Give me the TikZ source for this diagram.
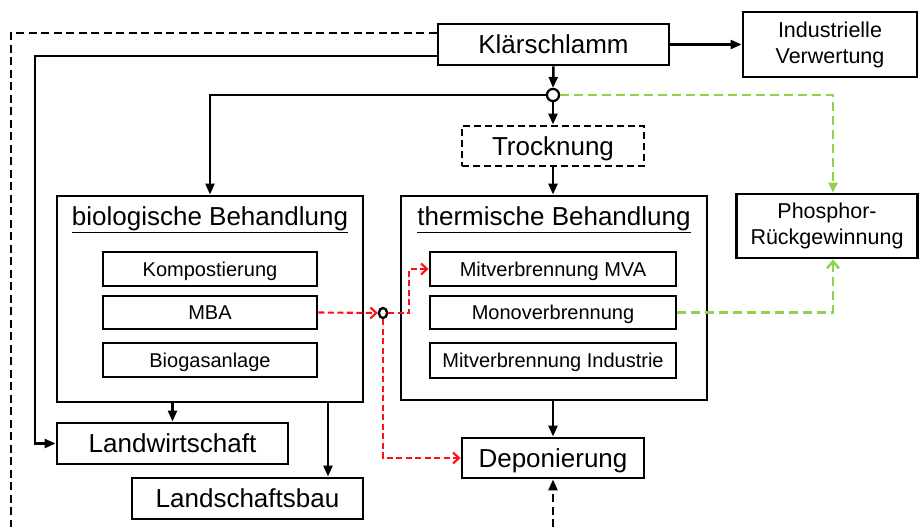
\documentclass[tikz,border=0pt]{standalone}
\usepackage{fontspec}
\setmainfont{Liberation Sans}
\usetikzlibrary{arrows.meta,calc,shapes.geometric}

\definecolor{pgreen}{HTML}{92D050}
\definecolor{pred}{HTML}{FF1010}

\tikzset{
  box/.style={draw, line width=2.9pt, fill=white, inner sep=0pt, align=center},
  bigtext/.style={font=\fontsize{26}{30}\selectfont, text height=18.6pt, text depth=0pt},
  midtext/.style={font=\fontsize{21.5}{26}\selectfont},
  smalltext/.style={font=\fontsize{20}{24}\selectfont, text height=14.3pt, text depth=0pt},
  conn/.style={line width=2.5pt},
  blk/.style={conn, -{Triangle[length=11pt,width=9pt]}},
  blkdash/.style={conn, dash pattern=on 8pt off 4.5pt},
  redflow/.style={line width=2.1pt, draw=pred, dash pattern=on 6pt off 3.5pt},
  redarr/.style={redflow, -{Straight Barb[length=6pt,width=11pt,line width=2.1pt]}},
  greenflow/.style={line width=2.5pt, draw=pgreen, dash pattern=on 9pt off 5pt},
  junction/.style={circle, draw, fill=white, line width=2.2pt, inner sep=0pt, minimum size=12pt},
  smalljunction/.style={ellipse, draw, fill=white, line width=2.2pt, inner sep=0pt, minimum width=8pt, minimum height=10pt}
}

\begin{document}
\begin{tikzpicture}[x=1pt, y=-1pt]
\useasboundingbox (0,0) rectangle (919,527);

% --- main nodes ---
\node[box, bigtext, minimum width=231pt, minimum height=41pt] (klae) at (553.5,44.5) {Klärschlamm};
\node[box, midtext, minimum width=174pt, minimum height=65pt] (indv) at (830,44.5) {\raisebox{-2pt}{Industrielle}\\\raisebox{-2pt}{Verwertung}};
\node[box, bigtext, dashed, dash pattern=on 7pt off 4pt, minimum width=182pt, minimum height=40pt] (trock) at (553,146) {Trocknung};

% treatment groups
\node[box, minimum width=306pt, minimum height=206pt] (bio) at (210,299) {};
\node[box, minimum width=306pt, minimum height=204pt] (therm) at (554,298) {};
\node[bigtext, inner sep=0pt] (biot) at (210,216.5) {\underline{biologische Behandlung}};
\node[bigtext, inner sep=0pt] (thermt) at (554,216.5) {\underline{thermische Behandlung}};

% inner process boxes
\node[box, smalltext, minimum width=214pt, minimum height=34pt] (komp) at (210,269) {Kompostierung};
\node[box, smalltext, minimum width=214pt, minimum height=33pt] (mba) at (210,312.5) {MBA};
\node[box, smalltext, minimum width=214pt, minimum height=34pt] (biog) at (210,360) {Biogasanlage};
\node[box, smalltext, minimum width=246pt, minimum height=34pt] (mva) at (553,269) {Mitverbrennung MVA};
\node[box, smalltext, minimum width=246pt, minimum height=33pt] (mono) at (553,312.5) {Monoverbrennung};
\node[box, smalltext, minimum width=246pt, minimum height=35pt] (mind) at (553,360.5) {Mitverbrennung Industrie};

\node[box, midtext, minimum width=181pt, minimum height=64pt] (phos) at (827,226) {\raisebox{-2pt}{Phosphor-}\\\raisebox{-2pt}{Rückgewinnung}};

% destinations
\node[box, bigtext, minimum width=231pt, minimum height=41pt] (lw) at (172.5,443.5) {Landwirtschaft};
\node[box, bigtext, minimum width=231pt, minimum height=41pt] (lsb) at (247.5,498.5) {Landschaftsbau};
\node[box, bigtext, minimum width=182pt, minimum height=40pt] (dep) at (553,458) {Deponierung};

% junction points
\node[junction] (j1) at (553,95) {};
\node[smalljunction] (j2) at (383,313) {};

% helper coordinates
\coordinate (botL) at (11,527);
\coordinate (lwturn) at (35,443.5);
\coordinate (rj) at (409,313);
\coordinate (botD) at (553,527);

% --- black connectors ---
\draw[blk] (klae.east) -- (indv.west);
\draw[blk] (klae.south) -- (j1.north);
\draw[blk] (j1.south) -- (trock.north);
\draw[blk] (j1.west) -| (bio.north);
\draw[blk] (trock.south) -- (trock.south |- therm.north);
\draw[blk] (dep.north |- therm.south) -- (dep.north);
\draw[blk] (lw.north |- bio.south) -- (lw.north);
\draw[blk] ([xshift=118pt]bio.south) -- ([xshift=118pt]bio.south |- lsb.north);
\draw[blk] ([yshift=-11.5pt]klae.west) -| (lwturn) -- (lw.west);
\draw[blkdash] ([yshift=11.5pt]klae.west) -| (botL);
\draw[blkdash, -{Triangle[length=11pt,width=9pt]}] (botD) -- (dep.south);

% --- red flows ---
\draw[redarr] (mba.east) -- (j2.west);
\draw[redarr] (j2.east) -- (rj) |- (mva.west);
\draw[redarr] (j2.south) |- (dep.west);

% --- green flows ---
\draw[greenflow, -{Triangle[length=10pt,width=9pt]}] (j1.east) -| ([xshift=6pt]phos.north);
\draw[greenflow, -{Straight Barb[length=7pt,width=12pt,line width=2.5pt]}] (mono.east) -| ([xshift=6pt]phos.south);

% junctions drawn again on top of the lines
\node[junction] at (j1) {};
\node[smalljunction] at (j2) {};
\end{tikzpicture}
\end{document}
